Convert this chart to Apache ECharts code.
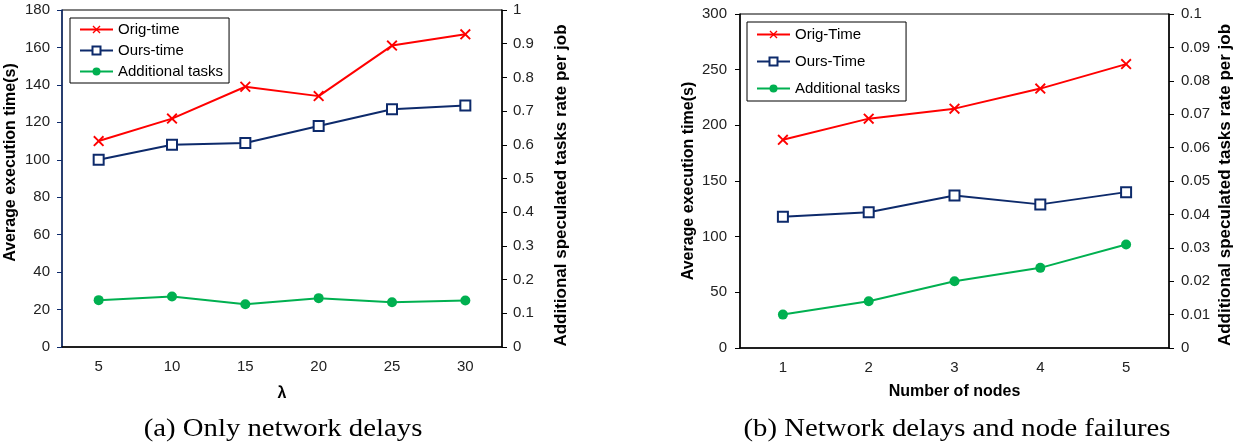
<!DOCTYPE html>
<html><head><meta charset="utf-8">
<script src="https://cdn.jsdelivr.net/npm/echarts@6/dist/echarts.min.js"></script>
<style>html,body{margin:0;padding:0;background:#fff}#c{width:1239px;height:442px}</style>
</head><body><div id="c"></div>
<script>
// ---- data (chart a) ----
const catsA = ['5','10','15','20','25','30'];
const origA = [110,122,139,134,161,167];
const oursA = [100,108,109,118,127,129];
const addA  = [0.139,0.150,0.127,0.145,0.133,0.138];
// ---- data (chart b) ----
const catsB = ['1','2','3','4','5'];
const origB = [187,206,215,233,255];
const oursB = [118,122,137,129,140];
const addB  = [0.010,0.014,0.020,0.024,0.031];

const RED='#ff0000', NAVY='#0d2a6b', GREEN='#00b050';
const FONT='Liberation Sans';
const cross='path://M0,1.2L1.2,0L5,3.8L8.8,0L10,1.2L6.2,5L10,8.8L8.8,10L5,6.2L1.2,10L0,8.8L3.8,5Z';

function yAxis(grid,min,max,interval,name,pos,gap,lineColor,fsize,pad,margin,fmt){
  return {type:'value',gridIndex:grid,min:min,max:max,interval:interval,position:pos,
    name:name,nameLocation:'middle',nameGap:gap,nameMoveOverlap:false,
    nameTextStyle:{fontFamily:FONT,fontWeight:'bold',fontSize:fsize,color:'#000',padding:pad},
    axisLine:{show:true,lineStyle:{color:lineColor,width:1.5}},
    axisTick:{show:true,inside:false,length:5,lineStyle:{color:lineColor}},
    axisLabel:{fontFamily:FONT,fontSize:15,color:'#222',margin:margin,formatter:fmt},
    splitLine:{show:false}};
}
const fmt2 = v => String(+v.toFixed(2));

const option={
  animation:false,
  backgroundColor:'#fff',
  grid:[
    {left:62,top:10,width:440,height:337,show:true,borderColor:'#000',borderWidth:1,containLabel:false},
    {left:740,top:14,width:429,height:334,show:true,borderColor:'#000',borderWidth:1,containLabel:false}
  ],
  xAxis:[
    {type:'category',gridIndex:0,data:catsA,boundaryGap:true,name:'λ',nameLocation:'middle',nameGap:39,
     nameTextStyle:{fontFamily:FONT,fontWeight:'bold',fontSize:16,color:'#000'},
     axisLine:{lineStyle:{color:'#000',width:1.5}},axisTick:{show:false},
     axisLabel:{fontFamily:FONT,fontSize:15,color:'#222',margin:12}},
    {type:'category',gridIndex:1,data:catsB,boundaryGap:true,name:'Number of nodes',nameLocation:'middle',nameGap:36,
     nameTextStyle:{fontFamily:FONT,fontWeight:'bold',fontSize:16,color:'#000'},
     axisLine:{lineStyle:{color:'#000',width:1.5}},axisTick:{show:false},
     axisLabel:{fontFamily:FONT,fontSize:15,color:'#222',margin:12}}
  ],
  yAxis:[
    yAxis(0,0,180,20,'Average execution time(s)','left',43,NAVY,16,[0,0,0,32],12),
    yAxis(0,0,1,0.1,'Additional speculated tasks rate per job','right',51,'#000',17,[0,14,0,0],11,fmt2),
    yAxis(1,0,300,50,'Average execution time(s)','left',43,'#000',16,[0,0,0,0],13),
    yAxis(1,0,0.1,0.01,'Additional speculated tasks rate per job','right',48,'#000',17,[0,8,0,0],12,fmt2)
  ],
  legend:[
    {left:70,top:18,orient:'vertical',data:['Orig-time','Ours-time','Additional tasks'],
     borderColor:'#000',borderWidth:1,padding:[4,6,4,9],itemGap:6,itemWidth:33,itemHeight:10,
     textStyle:{fontFamily:FONT,fontSize:15,color:'#000'}},
    {left:747,top:22,orient:'vertical',data:['Orig-Time','Ours-Time','Additional tasks '],
     borderColor:'#000',borderWidth:1,padding:[5,6,5,9],itemGap:12,itemWidth:33,itemHeight:10,
     textStyle:{fontFamily:FONT,fontSize:15,color:'#000'},
     formatter: n => n.trim()}
  ],
  series:[
    {name:'Orig-time',type:'line',xAxisIndex:0,yAxisIndex:0,data:origA,symbol:cross,symbolSize:11,
     lineStyle:{color:RED,width:2},itemStyle:{color:RED}},
    {name:'Ours-time',type:'line',xAxisIndex:0,yAxisIndex:0,data:oursA,symbol:'emptyRect',symbolSize:10,
     lineStyle:{color:NAVY,width:2},itemStyle:{color:NAVY,borderWidth:2}},
    {name:'Additional tasks',type:'line',xAxisIndex:0,yAxisIndex:1,data:addA,symbol:'circle',symbolSize:10,
     lineStyle:{color:GREEN,width:2},itemStyle:{color:GREEN}},
    {name:'Orig-Time',type:'line',xAxisIndex:1,yAxisIndex:2,data:origB,symbol:cross,symbolSize:11,
     lineStyle:{color:RED,width:2},itemStyle:{color:RED}},
    {name:'Ours-Time',type:'line',xAxisIndex:1,yAxisIndex:2,data:oursB,symbol:'emptyRect',symbolSize:10,
     lineStyle:{color:NAVY,width:2},itemStyle:{color:NAVY,borderWidth:2}},
    {name:'Additional tasks ',type:'line',xAxisIndex:1,yAxisIndex:3,data:addB,symbol:'circle',symbolSize:10,
     lineStyle:{color:GREEN,width:2},itemStyle:{color:GREEN}}
  ],
  graphic:[
    {type:'text',x:283,y:429,scaleX:1.15,style:{text:'(a) Only network delays',x:0,y:0,align:'center',verticalAlign:'middle',
      font:'25px "Liberation Serif"',fill:'#000'}},
    {type:'text',x:957,y:429,scaleX:1.15,style:{text:'(b) Network delays and node failures',x:0,y:0,align:'center',verticalAlign:'middle',
      font:'25px "Liberation Serif"',fill:'#000'}}
  ]
};
const chart=echarts.init(document.getElementById('c'),null,{renderer:'canvas'});
chart.setOption(option);
</script></body></html>
